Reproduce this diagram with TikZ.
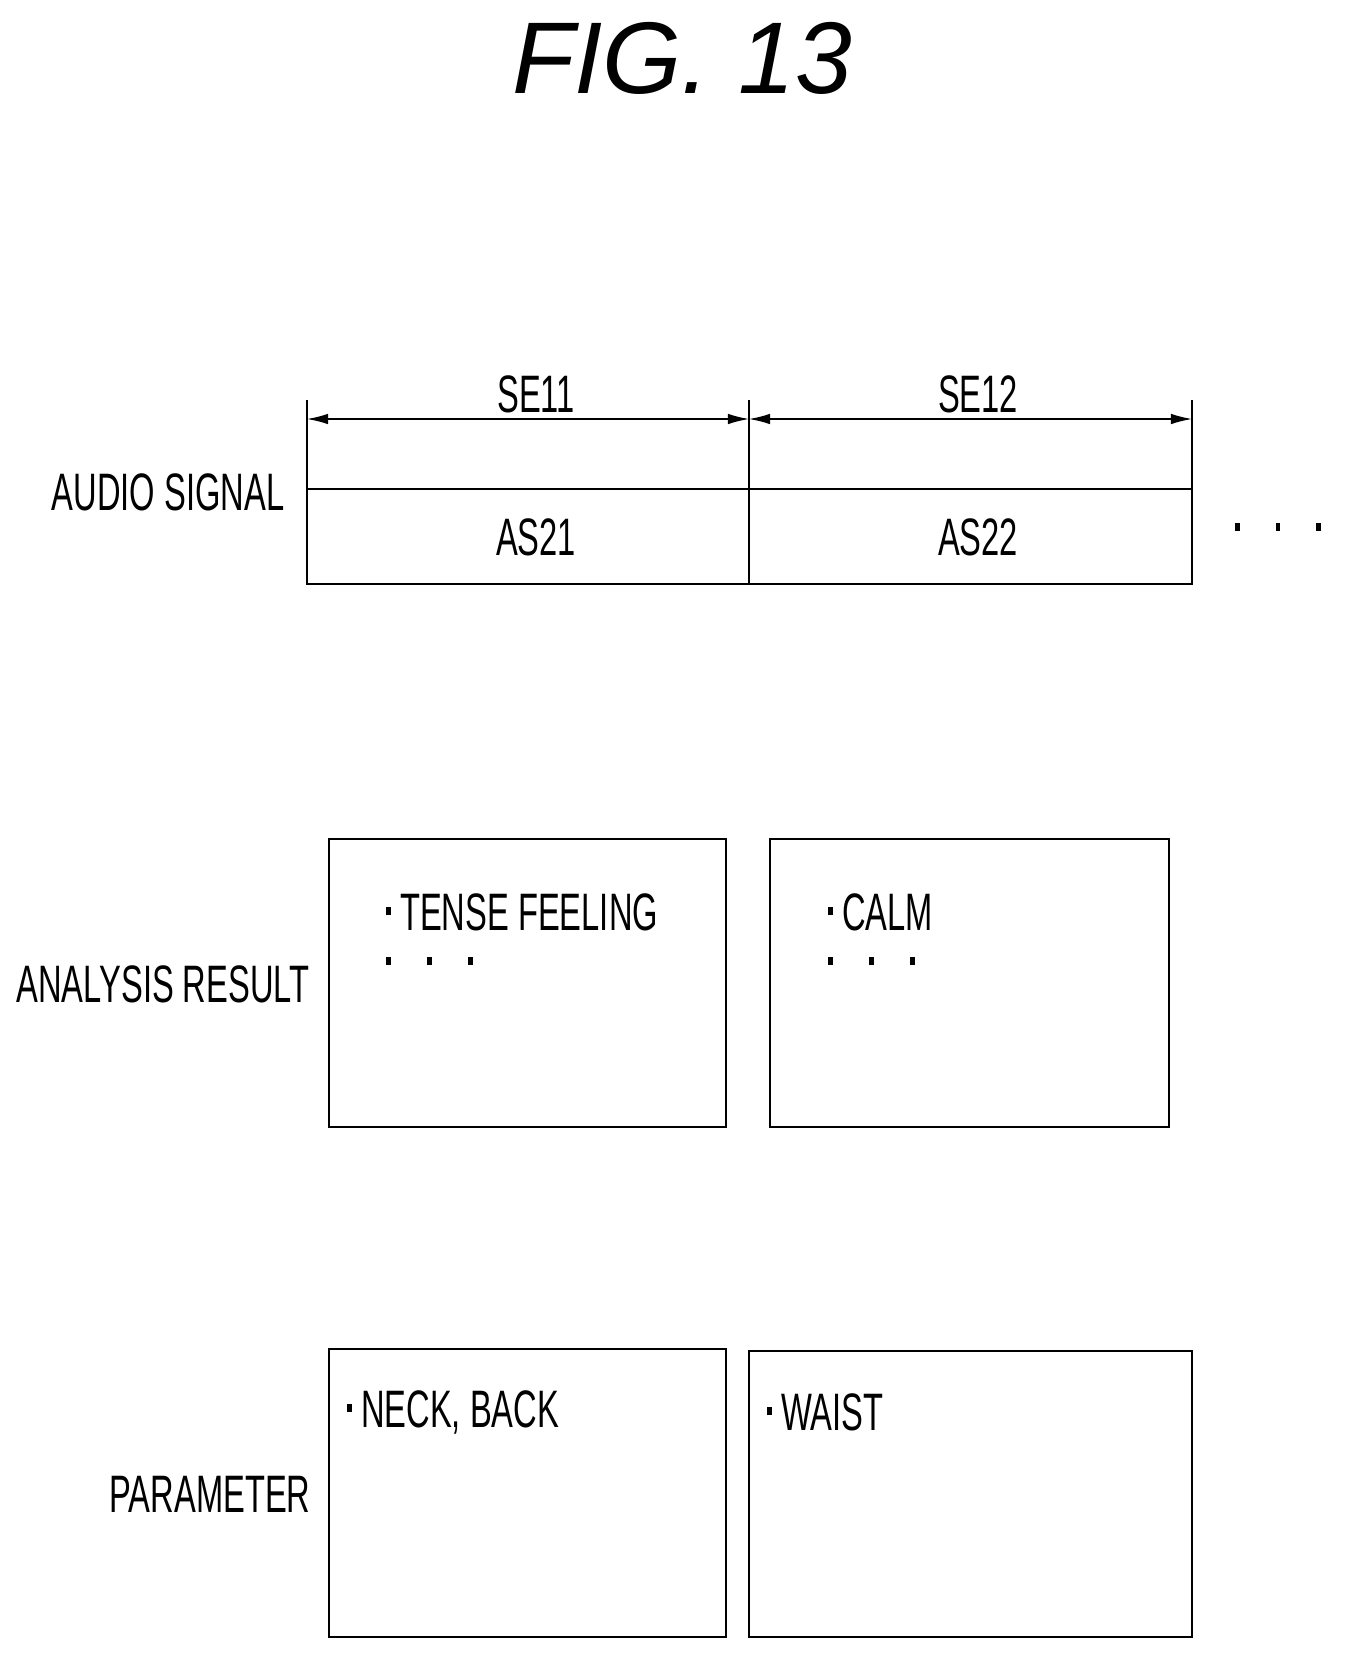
\documentclass[tikz,border=0pt]{standalone}
\usepackage{fontspec}
\setmainfont{Liberation Sans}
\usetikzlibrary{arrows.meta,positioning}

\newcommand{\sqdot}{\raisebox{0.28em}{\rule{4.5pt}{4.5pt}}}
\newcommand{\sqdots}{\sqdot\hspace{1.1em}\sqdot\hspace{1.1em}\sqdot}

\begin{document}
\begin{tikzpicture}[
		x=0.02cm, y=-0.02cm,
		lbl/.style={inner sep=0pt, font=\fontsize{30}{32}\selectfont, xscale=0.62},
		box/.style={draw, thick},
		dim/.style={thick, {Latex[length=12pt,width=6pt]}-{Latex[length=12pt,width=6pt]}}
		]
		\useasboundingbox (0,0) rectangle (1354,1667);
		
		% title
		\node[inner sep=0pt, font=\fontsize{58}{60}\selectfont\itshape] (title) at (682,58) {FIG. 13};
		
		% audio signal
		\draw[box] (307,489) rectangle (1192,584);
		\draw[thick] (307,400) -- (307,489) (749,400) -- (749,584) (1192,400) -- (1192,489);
		\coordinate (a0) at (307,419);
		\coordinate (a1) at (749,419);
		\coordinate (a2) at (1192,419);
		\draw[dim] (a0) -- (a1);
		\draw[dim] (a1) -- (a2);
		\node[lbl] (se11) at (536,394) {SE11};
		\node[lbl] (se12) at (978,394) {SE12};
		\node[lbl] (as21) at (536,537) {AS21};
		\node[lbl] (as22) at (978,537) {AS22};
		\node[lbl] (audio) at (168,492) {AUDIO SIGNAL};
		\node[lbl] (more) at (1278,534) {\sqdots};
		
		% analysis result
		\node[lbl] (analysis) at (163,984) {ANALYSIS RESULT};
		\draw[box] (329,839) rectangle (726,1127);
		\draw[box] (770,839) rectangle (1169,1127);
		\node[lbl, anchor=west] (tense) at (386,912) {\sqdot\ TENSE FEELING};
		\node[lbl, anchor=west] (tdots) at (386,968) {\sqdots};
		\node[lbl, anchor=west] (calm) at (828,912) {\sqdot\ CALM};
		\node[lbl, anchor=west] (cdots) at (828,968) {\sqdots};
		
		% parameter
		\node[lbl] (param) at (210,1494) {PARAMETER};
		\draw[box] (329,1349) rectangle (726,1637);
		\draw[box] (749,1351) rectangle (1192,1637);
		\node[lbl, anchor=west] (neck) at (347,1412) {\sqdot\ NECK, BACK};
		\node[lbl, anchor=west] (waist) at (767,1412) {\sqdot\ WAIST};
	\end{tikzpicture}
\end{document}
